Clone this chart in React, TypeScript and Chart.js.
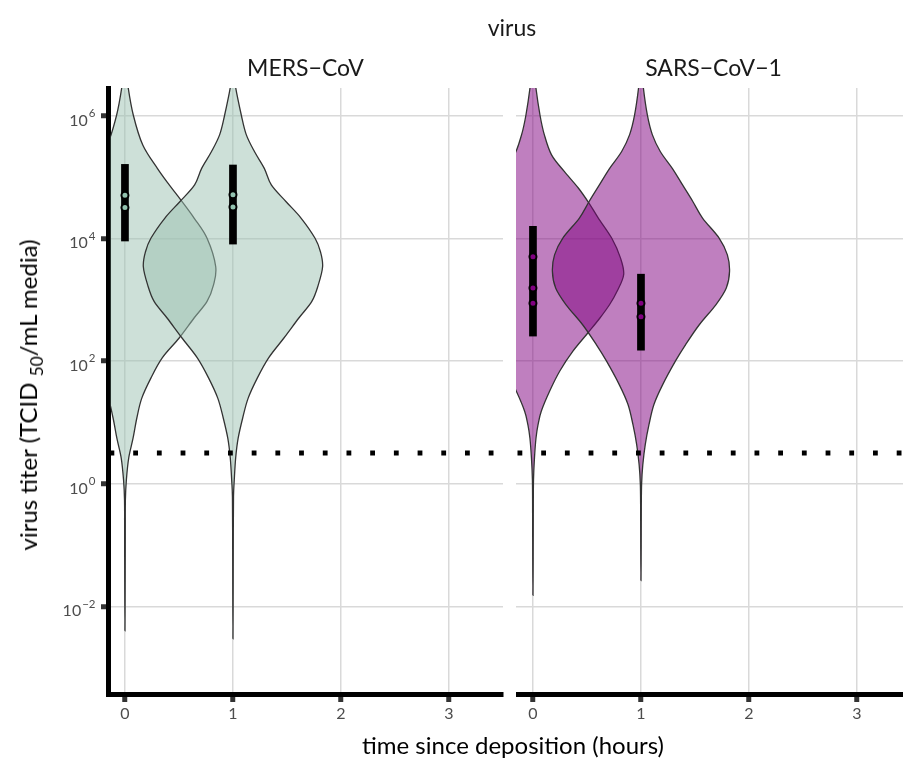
import { useEffect, useRef } from "react";
import { Chart, registerables } from "chart.js";
Chart.register(...registerables);

const FONT = "Lato, 'Open Sans', sans-serif";

// ---- categories / axes ----
const virusNames = ["MERS\u2212CoV", "SARS\u2212CoV\u22121"];
const timePoints = [0, 1]; // hours since deposition
const xTickValues = [0, 1, 2, 3];
const yTickExponents = [-2, 0, 2, 4, 6]; // log10 titer
const detectionLimitLog10 = 0.5;
const X_MIN = -0.157;
const X_MAX = 3.5;
const Y_MIN = -3.43;
const Y_MAX = 6.45;

// ---- violin profiles: log10 titer levels and half-widths (hours) ----
const mersT0Levels = [-2.40, -1.6, -0.8, -0.27, 0.06, 0.42, 0.74, 1.07, 1.39, 1.72, 2.05, 2.37, 2.70, 2.97, 3.24, 3.54, 4.00, 4.33, 4.63, 4.87, 5.14, 5.52, 6.01, 6.50, 6.80, 7.10];
const mersT0Widths = [0, 0.002, 0.003, 0.004, 0.013, 0.035, 0.075, 0.11, 0.155, 0.24, 0.345, 0.50, 0.64, 0.76, 0.82, 0.84, 0.76, 0.64, 0.515, 0.41, 0.30, 0.165, 0.077, 0.026, 0.01, 0];
const mersT1Levels = [-2.53, -1.6, -0.8, -0.21, 0.06, 0.42, 0.74, 1.07, 1.39, 1.72, 2.05, 2.37, 2.70, 2.97, 3.24, 3.54, 3.78, 4.00, 4.33, 4.60, 4.87, 5.14, 5.41, 5.69, 6.01, 6.50, 6.80, 7.10];
const mersT1Widths = [0, 0.002, 0.003, 0.005, 0.012, 0.025, 0.048, 0.09, 0.14, 0.225, 0.33, 0.47, 0.61, 0.73, 0.79, 0.83, 0.81, 0.76, 0.63, 0.49, 0.355, 0.29, 0.20, 0.123, 0.077, 0.021, 0.008, 0];
const sarsT0Levels = [-1.82, -1.2, -0.5, 0.06, 0.42, 0.74, 0.96, 1.18, 1.51, 1.84, 2.16, 2.46, 2.70, 2.92, 3.14, 3.41, 3.68, 4.00, 4.33, 4.57, 4.82, 5.09, 5.36, 5.69, 6.01, 6.50, 6.80, 7.10];
const sarsT0Widths = [0, 0.002, 0.003, 0.005, 0.014, 0.028, 0.047, 0.077, 0.155, 0.25, 0.37, 0.51, 0.62, 0.71, 0.78, 0.84, 0.81, 0.73, 0.605, 0.52, 0.42, 0.29, 0.172, 0.105, 0.065, 0.024, 0.01, 0];
const sarsT1Levels = [-1.58, -1.0, -0.4, 0.0, 0.31, 0.64, 0.96, 1.29, 1.61, 2.0, 2.27, 2.59, 2.92, 3.19, 3.46, 3.73, 4.0, 4.33, 4.60, 4.87, 5.14, 5.41, 5.69, 6.01, 6.50, 6.80, 7.10];
const sarsT1Widths = [0, 0.002, 0.003, 0.006, 0.017, 0.04, 0.074, 0.12, 0.20, 0.32, 0.415, 0.54, 0.695, 0.79, 0.82, 0.80, 0.725, 0.57, 0.48, 0.385, 0.29, 0.18, 0.105, 0.059, 0.019, 0.007, 0];

// ---- observed titers (log10) and intervals (log10) ----
const mersT0Observed = [4.70, 4.50];
const mersT1Observed = [4.71, 4.51];
const sarsT0Observed = [3.70, 3.19, 2.94];
const sarsT1Observed = [2.94, 2.72];
const mersT0Interval = [3.95, 5.21];
const mersT1Interval = [3.90, 5.20];
const sarsT0Interval = [2.40, 4.20];
const sarsT1Interval = [2.17, 3.42];

type Violin = { center: number; levels: number[]; widths: number[] };
type Panel = {
  name: string;
  violinFill: string;
  pointFill: string;
  violins: Violin[];
  observed: number[][];
  intervals: number[][];
};

const panels: Panel[] = [
  {
    name: virusNames[0],
    violinFill: "rgba(155,193,177,0.5)",
    pointFill: "#92c2ae",
    violins: [
      { center: timePoints[0], levels: mersT0Levels, widths: mersT0Widths },
      { center: timePoints[1], levels: mersT1Levels, widths: mersT1Widths },
    ],
    observed: [mersT0Observed, mersT1Observed],
    intervals: [mersT0Interval, mersT1Interval],
  },
  {
    name: virusNames[1],
    violinFill: "rgba(128,0,128,0.5)",
    pointFill: "#800080",
    violins: [
      { center: timePoints[0], levels: sarsT0Levels, widths: sarsT0Widths },
      { center: timePoints[1], levels: sarsT1Levels, widths: sarsT1Widths },
    ],
    observed: [sarsT0Observed, sarsT1Observed],
    intervals: [sarsT0Interval, sarsT1Interval],
  },
];

function smoothClosedPath(ctx: CanvasRenderingContext2D, pts: { x: number; y: number }[]) {
  const n = pts.length;
  ctx.moveTo(pts[0].x, pts[0].y);
  for (let i = 0; i < n; i++) {
    const p0 = pts[(i - 1 + n) % n];
    const p1 = pts[i];
    const p2 = pts[(i + 1) % n];
    const p3 = pts[(i + 2) % n];
    const c1x = p1.x + (p2.x - p0.x) / 6;
    const c1y = p1.y + (p2.y - p0.y) / 6;
    const c2x = p2.x - (p3.x - p1.x) / 6;
    const c2y = p2.y - (p3.y - p1.y) / 6;
    ctx.bezierCurveTo(c1x, c1y, c2x, c2y, p2.x, p2.y);
  }
  ctx.closePath();
}

function buildPanel(canvas: HTMLCanvasElement, panel: Panel, isLeft: boolean) {
  const violinPlugin = {
    id: "violins" + (isLeft ? "L" : "R"),
    beforeDatasetsDraw(chart: any) {
      const { ctx, chartArea: a, scales } = chart;
      const xs = scales.x;
      const ys = scales.y;
      const inset = isLeft ? 2.5 : 0;
      ctx.save();
      ctx.beginPath();
      ctx.rect(a.left + inset, a.top, a.right - a.left - inset, a.bottom - a.top - 2.5);
      ctx.clip();
      for (const v of panel.violins) {
        const pts: { x: number; y: number }[] = [];
        const n = v.levels.length;
        for (let i = 0; i < n; i++) {
          pts.push({ x: xs.getPixelForValue(v.center + v.widths[i]), y: ys.getPixelForValue(v.levels[i]) });
        }
        for (let i = n - 2; i >= 1; i--) {
          pts.push({ x: xs.getPixelForValue(v.center - v.widths[i]), y: ys.getPixelForValue(v.levels[i]) });
        }
        ctx.beginPath();
        smoothClosedPath(ctx, pts);
        ctx.fillStyle = panel.violinFill;
        ctx.fill();
        ctx.lineWidth = 1.3;
        ctx.strokeStyle = "#333333";
        ctx.stroke();
      }
      ctx.restore();
    },
  };

  const yLabelPlugin = {
    id: "ylabels",
    afterDraw(chart: any) {
      if (!isLeft) return;
      const { ctx, chartArea: a, scales } = chart;
      const ys = scales.y;
      const right = a.left - 12.5;
      ctx.save();
      ctx.fillStyle = "#4d4d4d";
      ctx.textBaseline = "alphabetic";
      for (const e of yTickExponents) {
        const py = ys.getPixelForValue(e);
        const exp = e < 0 ? "\u2212" + Math.abs(e) : String(e);
        ctx.font = `11.5px ${FONT}`;
        const ew = ctx.measureText(exp).width;
        ctx.textAlign = "left";
        ctx.fillText(exp, right - ew, py + 1.5);
        ctx.font = `16px ${FONT}`;
        ctx.textAlign = "right";
        ctx.fillText("10", right - ew - 1, py + 10);
      }
      ctx.restore();
    },
  };

  const datasets: any[] = [];
  panel.observed.forEach((vals, i) => {
    datasets.push({
      type: "scatter",
      data: vals.map((v) => ({ x: timePoints[i], y: v })),
      pointRadius: 3.5,
      pointBorderWidth: 2,
      pointBorderColor: "#000",
      pointBackgroundColor: panel.pointFill,
      order: 0,
    });
  });
  panel.intervals.forEach((iv, i) => {
    datasets.push({
      type: "scatter",
      showLine: true,
      data: iv.map((v) => ({ x: timePoints[i], y: v })),
      borderColor: "#000",
      borderWidth: 7.7,
      borderCapStyle: "butt",
      pointRadius: 0,
      order: 1,
    });
  });
  datasets.push({
    type: "scatter",
    showLine: true,
    data: [
      { x: X_MIN, y: detectionLimitLog10 },
      { x: X_MAX, y: detectionLimitLog10 },
    ],
    borderColor: "#000",
    borderWidth: 5,
    borderDash: [4.8, 18.9],
    borderDashOffset: -1.5,
    borderCapStyle: "butt",
    pointRadius: 0,
    order: 2,
  });

  const gridColor = "#d9d9d9";
  return new Chart(canvas, {
    type: "scatter",
    data: { datasets },
    plugins: [violinPlugin, yLabelPlugin],
    options: {
      animation: false,
      responsive: false,
      events: [],
      layout: { autoPadding: false, padding: { top: 88, right: isLeft ? 7 : 5, left: 0, bottom: 0 } },
      plugins: { legend: { display: false }, tooltip: { enabled: false } },
      scales: {
        x: {
          type: "linear",
          min: X_MIN,
          max: X_MAX,
          afterBuildTicks: (s: any) => {
            s.ticks = xTickValues.map((v) => ({ value: v }));
          },
          afterFit: (s: any) => {
            s.height = 68;
          },
          grid: { color: gridColor, lineWidth: 1.5, tickColor: "#333333", tickLength: 8, tickWidth: 5 },
          border: { display: true, color: "#000", width: 5 },
          ticks: { font: { family: FONT, size: 16 }, color: "#4d4d4d", padding: 2, maxRotation: 0 },
        },
        y: {
          type: "linear",
          min: Y_MIN,
          max: Y_MAX,
          afterBuildTicks: (s: any) => {
            s.ticks = yTickExponents.map((v) => ({ value: v }));
          },
          afterFit: (s: any) => {
            s.width = isLeft ? 108 : 0;
          },
          grid: isLeft
            ? { color: gridColor, lineWidth: 1.5, tickColor: "#333333", tickLength: 7, tickWidth: 5 }
            : { color: gridColor, lineWidth: 1.5, drawTicks: false },
          border: { display: isLeft, color: "#000", width: 5 },
          ticks: { display: isLeft, callback: () => "" },
        },
      },
    } as any,
  });
}

const textBase: any = { position: "absolute", whiteSpace: "nowrap", lineHeight: 1, fontFamily: FONT };

export default function App() {
  const leftRef = useRef<HTMLCanvasElement>(null);
  const rightRef = useRef<HTMLCanvasElement>(null);
  useEffect(() => {
    const c1 = buildPanel(leftRef.current!, panels[0], true);
    const c2 = buildPanel(rightRef.current!, panels[1], false);
    return () => {
      c1.destroy();
      c2.destroy();
    };
  }, []);
  return (
    <div style={{ position: "absolute", left: 0, top: 0, width: 903, height: 762, overflow: "hidden", background: "#fff" }}>
      <canvas ref={leftRef} width={510} height={762} style={{ position: "absolute", left: 0, top: 0, width: 510, height: 762 }} />
      <canvas ref={rightRef} width={400} height={762} style={{ position: "absolute", left: 516, top: 0, width: 400, height: 762 }} />
      <div style={{ ...textBase, left: 512, top: 27, transform: "translate(-50%,-50%)", fontSize: 23, color: "#1a1a1a" }}>virus</div>
      <div style={{ ...textBase, left: 305.5, top: 67, transform: "translate(-50%,-50%)", fontSize: 23, color: "#1a1a1a" }}>{panels[0].name}</div>
      <div style={{ ...textBase, left: 713.5, top: 67, transform: "translate(-50%,-50%)", fontSize: 23, color: "#1a1a1a" }}>{panels[1].name}</div>
      <div style={{ ...textBase, left: 513, top: 745, transform: "translate(-50%,-50%)", fontSize: 24, color: "#000" }}>time since deposition (hours)</div>
      <div style={{ ...textBase, left: 28, top: 395, transform: "translate(-50%,-50%) rotate(-90deg)", fontSize: 24, color: "#000" }}>
        virus titer (TCID <span style={{ fontSize: "0.72em", position: "relative", top: "0.35em" }}>50</span>/mL media)
      </div>
    </div>
  );
}
